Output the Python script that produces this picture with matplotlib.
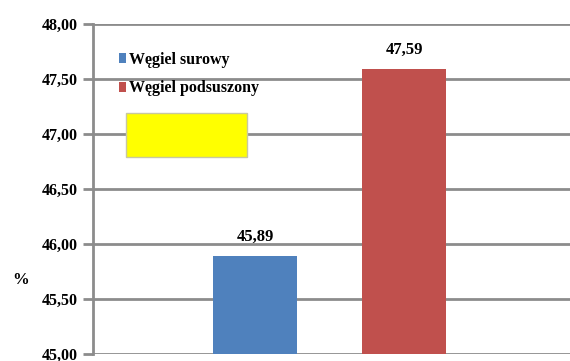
#!/usr/bin/env python3

import matplotlib
matplotlib.use('Agg')
import matplotlib.pyplot as plt
from matplotlib.patches import Rectangle

categories = ['Węgiel surowy', 'Węgiel podsuszony']
values = [45.89, 47.59]
colors = ['#4f81bd', '#c0504d']
yticks = [45.0, 45.5, 46.0, 46.5, 47.0, 47.5, 48.0]

plt.rcParams['font.family'] = ['Liberation Serif', 'DejaVu Serif']
plt.rcParams['font.weight'] = 'bold'

fig = plt.figure(figsize=(5.7, 3.61), dpi=100)
ax = fig.add_axes([93/570, 1 - 354/361, 1 - 93/570 + 0.01, (354 - 24)/361])

x = [0, 1]
bars = ax.bar(x, values, width=0.56, color=colors, zorder=3)

for xi, v in zip(x, values):
	ax.text(xi, v + 0.1, ('%.2f' % v).replace('.', ','), ha='center', va='bottom',
			fontsize=12, fontweight='bold', zorder=4)

ax.set_ylim(45, 48)
ax.set_xlim(-1.087, 2.15)
ax.set_yticks(yticks)
ax.set_yticklabels([('%.2f' % t).replace('.', ',') for t in yticks], fontsize=11.5, fontweight='bold')
ax.set_xticks([])

ax.grid(axis='y', color='#8c8c8c', linewidth=2, zorder=0)
for s in ['top', 'right', 'bottom']:
	ax.spines[s].set_visible(False)
ax.spines['left'].set_color('#8c8c8c')
ax.spines['left'].set_linewidth(2)
ax.tick_params(axis='y', length=7, width=2, color='#8c8c8c', pad=4)

ax.set_ylabel('%', rotation=0, fontsize=12, fontweight='bold')
ax.yaxis.set_label_coords(-0.15, 0.2)

# legend
leg = ax.legend(bars, categories, loc='upper left', bbox_to_anchor=(0.03, 0.95),
				frameon=False, fontsize=11.5, handlelength=0.45, handleheight=0.55,
				handletextpad=0.2, labelspacing=0.8, borderpad=0.2)

# yellow box
fig.patches.append(Rectangle((126/570, 1 - 157/361), (247 - 126)/570, (157 - 113)/361,
							 transform=fig.transFigure, facecolor='#ffff00',
							 edgecolor='#c8c8a0', linewidth=1, zorder=5))

fig.savefig('out.png', dpi=100)
